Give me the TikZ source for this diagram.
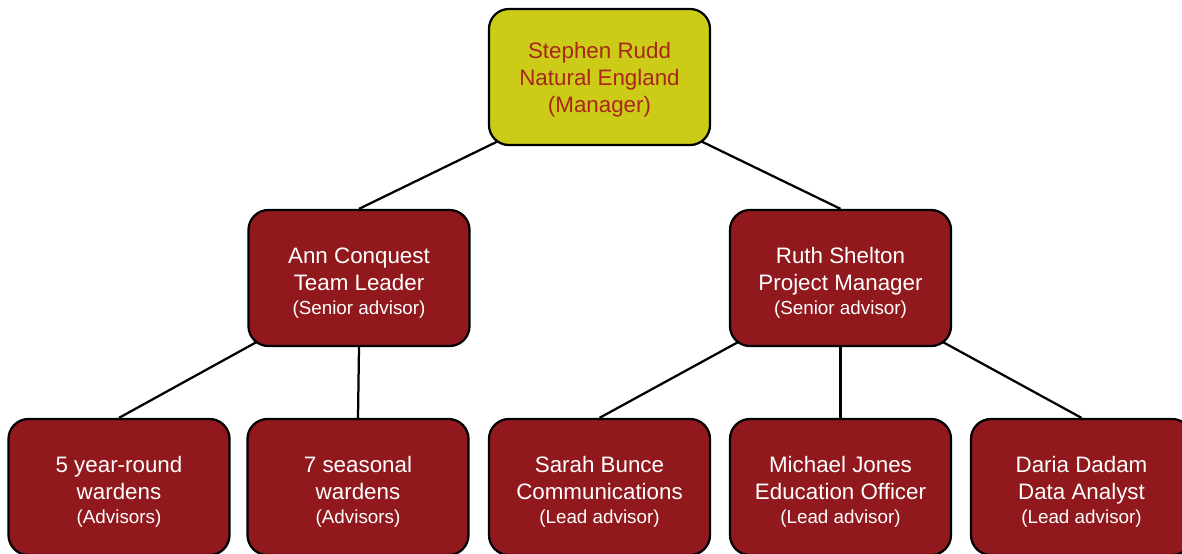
\documentclass[tikz,border=0pt]{standalone}
\usepackage{fontspec}
\setmainfont{Liberation Sans}
\usetikzlibrary{backgrounds}
\definecolor{jaune}{RGB}{204,204,24}
\definecolor{rouge}{RGB}{145,25,30}
\definecolor{brique}{RGB}{168,38,28}
\newcommand{\smalltxt}[1]{{\fontsize{13.4}{17}\selectfont #1}}
\newcommand{\hauteur}[1]{\rule{0pt}{#1}}
\begin{document}
\begin{tikzpicture}[x=0.025cm, y=-0.025cm]
\tikzset{boite/.style={draw, line width=1.6pt, rounded corners=0.5cm, minimum width=5.525cm, minimum height=3.4cm, inner sep=0pt, align=center, font=\fontsize{15.9}{19.2}\selectfont}}
\tikzset{chef/.style={boite, fill=jaune, text=brique}}
\tikzset{membre/.style={boite, fill=rouge, text=white}}
\tikzset{lien/.style={line width=1.6pt}}
\clip (0, 0) rectangle (1182, 553);
\node[chef] (SR) at (599.5, 77) {\hauteur{15pt}Stephen Rudd\\Natural England\\(Manager)};
\node[membre] (AC) at (359, 278) {\hauteur{18.5pt}Ann Conquest\\Team Leader\\[-2pt]\smalltxt{(Senior advisor)}};
\node[membre] (RS) at (840.5, 278) {\hauteur{18.5pt}Ruth Shelton\\Project Manager\\[-2pt]\smalltxt{(Senior advisor)}};
\node[membre] (W5) at (119, 487) {\hauteur{18pt}5 year-round\\wardens\\[-2pt]\smalltxt{(Advisors)}};
\node[membre] (W7) at (358, 487) {\hauteur{18pt}7 seasonal\\wardens\\[-2pt]\smalltxt{(Advisors)}};
\node[membre] (SB) at (599.5, 487) {\hauteur{18pt}Sarah Bunce\\Communications\\[-2pt]\smalltxt{(Lead advisor)}};
\node[membre] (MJ) at (840.5, 487) {\hauteur{18pt}Michael Jones\\Education Officer\\[-2pt]\smalltxt{(Lead advisor)}};
\node[membre] (DD) at (1081.5, 487) {\hauteur{18pt}Daria Dadam\\Data Analyst\\[-2pt]\smalltxt{(Lead advisor)}};
\begin{scope}[on background layer]
\draw[lien, shorten <=-10pt] (SR.south west) -- (AC.north);
\draw[lien, shorten <=-10pt] (SR.south east) -- (RS.north);
\draw[lien, shorten <=-10pt] (AC.south west) -- (W5.north);
\draw[lien] (AC.south) -- (W7.north);
\draw[lien, shorten <=-10pt] (RS.south west) -- (SB.north);
\draw[lien] (RS.south) -- (MJ.north);
\draw[lien, shorten <=-10pt] (RS.south east) -- (DD.north);
\end{scope}
\end{tikzpicture}
\end{document}
